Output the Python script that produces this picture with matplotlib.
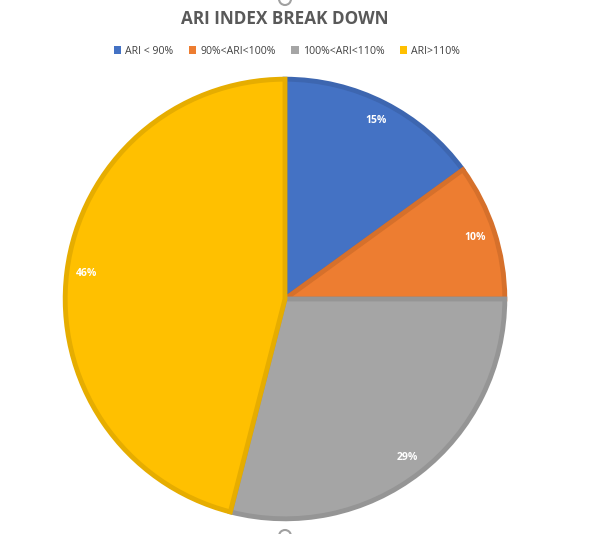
import matplotlib.pyplot as plt

categories = ['ARI < 90%', '90%<ARI<100%', '100%<ARI<110%', 'ARI>110%']
shares = [15, 10, 29, 46]
colors = ['#4472C4', '#ED7D31', '#A5A5A5', '#FFC000']
edges = ['#3D66B0', '#D6702B', '#959595', '#E6AD00']

W, H = 599, 534
fig = plt.figure(figsize=(W / 100, H / 100), dpi=100)

cx, cy, r = 285, 299, 222
ax = fig.add_axes([(cx - r) / W, (H - cy - r) / H, 2 * r / W, 2 * r / H])

wedges, texts, autotexts = ax.pie(
    shares, colors=colors, startangle=90, counterclock=False,
    autopct='%1.0f%%', pctdistance=0.91, radius=1,
    wedgeprops=dict(linewidth=3.5),
    textprops=dict(color='white', fontsize=7.5, fontweight='bold', family='Open Sans'))
for w, ec in zip(wedges, edges):
    w.set_edgecolor(ec)
ax.set_xlim(-1.01, 1.01)
ax.set_ylim(-1.01, 1.01)
ax.set_aspect('equal')

fig.text(285 / W, 1 - 19 / H, 'ARI INDEX BREAK DOWN', ha='center', va='center',
         fontsize=12.3, fontweight='bold', color='#595959', family='Open Sans')

leg = fig.legend(wedges, categories, loc='center', bbox_to_anchor=(287 / W, 1 - 51 / H),
                 ncol=4, frameon=False, handlelength=0.7, handleheight=0.7,
                 handletextpad=0.4, columnspacing=1.45, prop=dict(family='Open Sans', size=7.6))
for t in leg.get_texts():
    t.set_color('#404040')
for h, c in zip(leg.legend_handles, colors):
    h.set_edgecolor(c)
    h.set_linewidth(0)

# selection handles of the chart frame
for yy in (-1, 536):
    fig.add_artist(plt.Circle((285, H - yy), 6, transform=None, fill=False,
                              edgecolor='#A0A0A0', linewidth=1.5))

fig.savefig('out.png', dpi=100)
